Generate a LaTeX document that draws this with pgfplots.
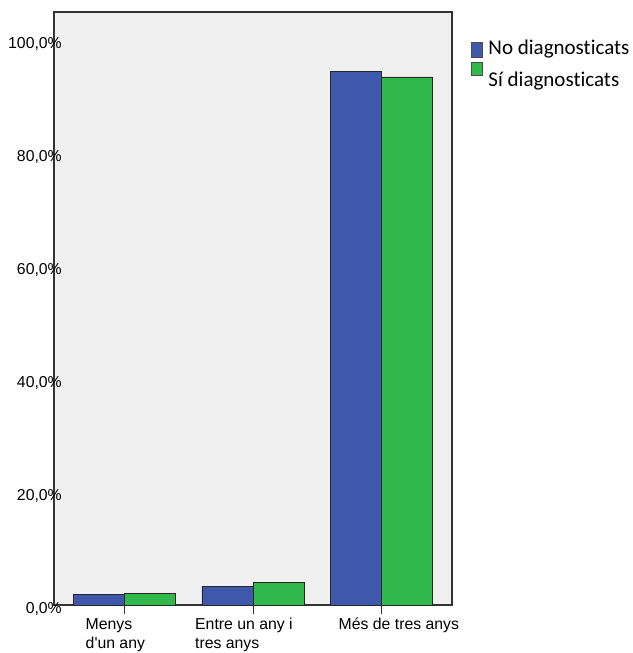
\documentclass[border=0pt]{standalone}
\usepackage{fontspec}
\setmainfont{Liberation Sans}
\newfontfamily\legfont[Ligatures=NoCommon]{Carlito}
\usepackage{pgfplots}
\pgfplotsset{compat=1.18}
\definecolor{cblue}{RGB}{62,88,172}
\definecolor{cgreen}{RGB}{48,184,74}
\definecolor{bgray}{RGB}{240,240,240}
\pgfplotsset{
  legimgA/.style={legend image code/.code={\draw[fill=cblue, draw=black!70, line width=0.7pt, overlay] (0pt,-7.5pt) rectangle (11pt,7.5pt);
    \path[draw=none, fill=none] (0pt,-4pt) rectangle (11pt,4pt);}},
  legimgB/.style={legend image code/.code={\draw[fill=cgreen, draw=black!70, line width=0.7pt, overlay] (0pt,5.95pt) rectangle (11pt,19.25pt);
    \path[draw=none, fill=none] (0pt,-4pt) rectangle (11pt,4pt);}},
}
\begin{document}
\begin{tikzpicture}
\useasboundingbox (0,0) rectangle (632pt,653pt);
\begin{axis}[
  at={(54pt,48pt)}, anchor=south west,
  width=398pt, height=593pt, scale only axis,
  xmin=-0.549, xmax=2.549, ymin=0, ymax=105,
  axis background/.style={fill=bgray},
  axis line style={draw=black!80, line width=1.2pt},
  ybar, bar width=0.397,
  ytick={0,20,40,60,80,100},
  yticklabels={{0,0\%},{20,0\%},{40,0\%},{60,0\%},{80,0\%},{100,0\%}},
  ytick style={draw=none},
  yticklabel style={anchor=east, inner sep=0pt, xshift=17pt, yshift=-4pt},
  xtick={0,1,2}, xtick pos=bottom,
  xticklabels={
    {\kern-39pt\begin{tabular}[t]{@{}l@{}}Menys\\d\textquotesingle un any\end{tabular}},
    {\kern-58pt\begin{tabular}[t]{@{}l@{}}Entre un any i\\tres anys\end{tabular}},
    {\kern-43pt\begin{tabular}[t]{@{}l@{}}Més de tres anys\end{tabular}}},
  xticklabel style={anchor=north west, inner sep=0pt, yshift=-2.5pt},
  tick align=outside, major tick length=9pt,
  xtick style={draw=black!80, line width=0.8pt},
  tick label style={font=\fontsize{15.8}{19}\selectfont},
  legend style={at={(rel axis cs:1.0477,0.9557)}, anchor=north west, draw=none, fill=none,
    font=\legfont\fontsize{21}{25}\selectfont, row sep=10pt, inner sep=0pt,
    nodes={inner sep=0pt, text height=16pt, text depth=6pt},
    /tikz/every odd column/.append style={column sep=6.3pt}},
  legend cell align=left,
]
\addplot[fill=cblue, draw=black!85, line width=0.7pt, bar shift=-0.1985, legimgA]
  coordinates {(0,1.9) (1,3.36) (2,94.5)};
\addplot[fill=cgreen, draw=black!85, line width=0.7pt, bar shift=0.1985, legimgB]
  coordinates {(0,2.07) (1,4.07) (2,93.5)};
\legend{No diagnosticats, Sí diagnosticats}
\end{axis}
\end{tikzpicture}
\end{document}
